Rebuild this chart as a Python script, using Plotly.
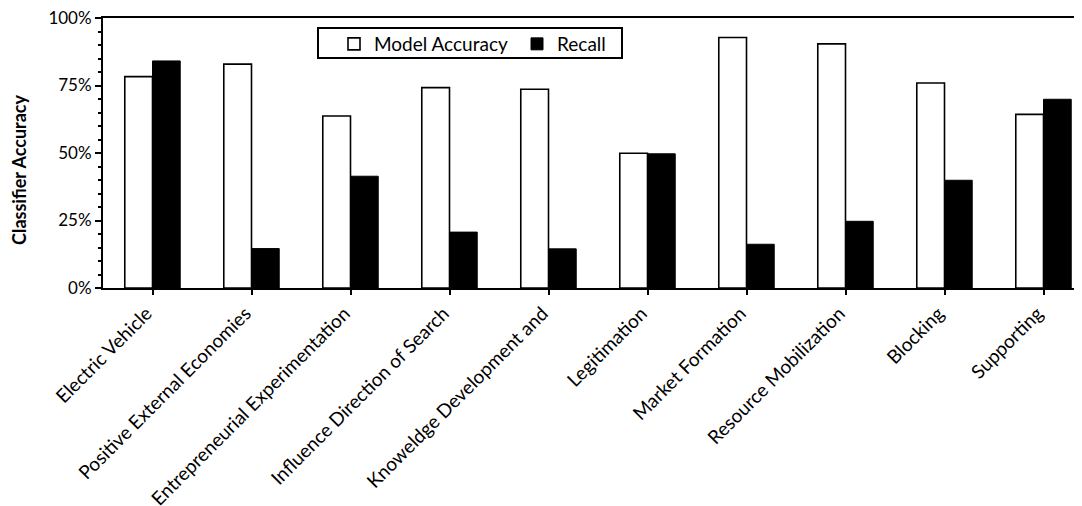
import plotly.graph_objects as go

categories = ["Electric Vehicle", "Positive External Economies", "Entrepreneurial Experimentation",
              "Influence Direction of Search", "Knoweldge Development and", "Legitimation",
              "Market Formation", "Resource Mobilization", "Blocking", "Supporting"]
model_accuracy = [0.783, 0.829, 0.637, 0.742, 0.736, 0.499, 0.928, 0.904, 0.759, 0.643]
recall = [0.841, 0.146, 0.414, 0.207, 0.145, 0.497, 0.162, 0.247, 0.399, 0.699]
y_ticks = [0, 0.25, 0.5, 0.75, 1.0]
y_ticklabels = ["0%", "25%", "50%", "75%", "100%"]

FONT = "Lato"
OFF = 8  # browser body margin
W, H = 1082 - OFF, 506 - OFF
L, R, T, B = 103 - OFF, 0, 18 - OFF, 506 - 288
plot_w = W - L - R
plot_h = H - T - B
cat_px = 99.0

def px(xpage):
    return (xpage - 103) / plot_w

def py(ypage):
    return (288 - ypage) / plot_h

fig = go.Figure()
fig.add_trace(go.Bar(x=categories, y=model_accuracy, name="Model Accuracy",
                     marker=dict(color="white", line=dict(color="black", width=1.6))))
fig.add_trace(go.Bar(x=categories, y=recall, name="Recall",
                     marker=dict(color="black", line=dict(color="black", width=1))))

fig.update_layout(
    width=W, height=H,
    margin=dict(l=L, r=R, t=T, b=B, pad=0, autoexpand=False),
    paper_bgcolor="white", plot_bgcolor="white",
    barmode="group", bargap=0.44, bargroupgap=0,
    font=dict(family=FONT, size=16, color="black"),
    showlegend=True,
    legend=dict(orientation="h", x=px(334), y=py(25),
                xanchor="left", yanchor="top",
                bgcolor="rgba(0,0,0,0)", borderwidth=0,
                font=dict(family=FONT, size=19, color="black"),
                entrywidth=138, entrywidthmode="pixels", itemwidth=30),
)
fig.update_xaxes(
    type="category", range=[-0.5, -0.5 + plot_w / cat_px],
    showline=True, linecolor="black", linewidth=2, mirror=True,
    ticks="outside", ticklen=5, tickwidth=1.5, tickcolor="black",
    tickangle=-45, tickfont=dict(family=FONT, size=19, color="black"),
    ticklabelshift=-6, ticklabeloverflow="allow",
    showgrid=False, zeroline=False, automargin=False,
)
fig.update_yaxes(
    range=[0, 1.0], tickvals=y_ticks, ticktext=y_ticklabels,
    showline=True, linecolor="black", linewidth=2,
    ticks="outside", ticklen=6, tickwidth=1.5, tickcolor="black",
    minor=dict(dtick=0.05, ticks="outside", ticklen=3, tickwidth=1.5, tickcolor="black", showgrid=False),
    tickfont=dict(family=FONT, size=17, color="black"), ticklabeloverflow="allow",
    showgrid=False, zeroline=False, automargin=False,
)
# legend frame
fig.add_shape(type="rect", xref="paper", yref="paper",
              x0=px(318), x1=px(622), y0=py(58), y1=py(28),
              line=dict(color="black", width=2), fillcolor="rgba(0,0,0,0)")
# y-axis title
fig.add_annotation(text="<b>Classifier Accuracy</b>", xref="paper", yref="paper",
                   x=px(19), y=py(170), textangle=-90,
                   showarrow=False, font=dict(family=FONT, size=18, color="black"),
                   xanchor="center", yanchor="middle")

fig.write_html("out.html")
